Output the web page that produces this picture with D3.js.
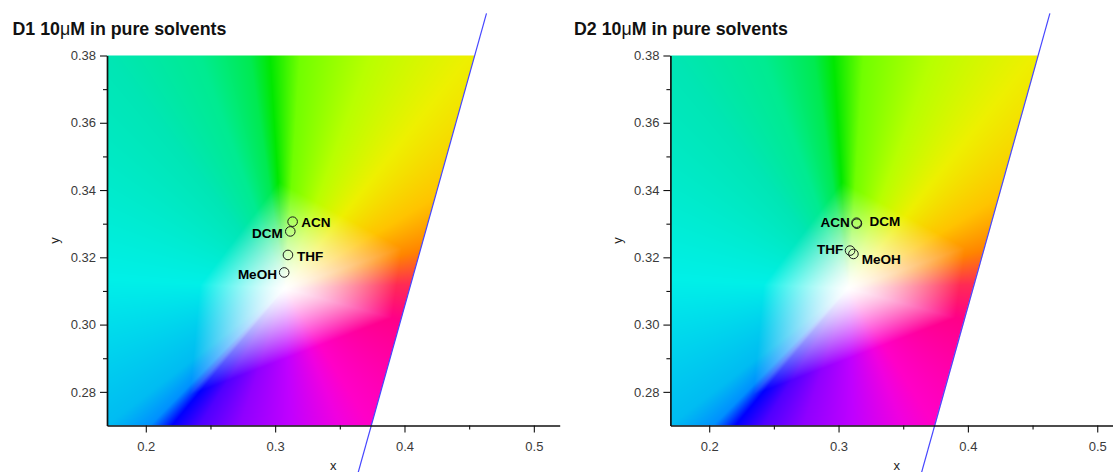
<!DOCTYPE html>
<html>
<head>
<meta charset="utf-8">
<script src="https://cdn.jsdelivr.net/npm/d3@7"></script>
<style>
  body { margin: 0; background: #fff; }
  svg { display: block; font-family: Arial, "Liberation Sans", sans-serif; }
</style>
</head>
<body>
<svg id="chart" width="1113" height="472"></svg>
<script>
// chromaticity coordinates
const panelNames = ['D1', 'D2'];
const solvents = ['ACN', 'DCM', 'THF', 'MeOH'];
const d1X = [0.3135, 0.3117, 0.3099, 0.3070];
const d1Y = [0.3306, 0.3277, 0.3207, 0.3155];
const d2X = [0.3139, 0.3142, 0.3089, 0.3115];
const d2Y = [0.3303, 0.3300, 0.3220, 0.3210];

const xTicks = [0.2, 0.3, 0.4, 0.5];
const xMinor = [0.25, 0.35, 0.45];
const yTicks = [0.28, 0.30, 0.32, 0.34, 0.36, 0.38];
const yMinor = [0.29, 0.31, 0.33, 0.35, 0.37];

// background colour field: white point, hue anchors, edge of the pale core
const whitePoint = [0.3076, 0.3107];
const anchorX = [0.2960, 0.2805, 0.2419, 0.1700, 0.1700, 0.1700, 0.2032, 0.2202, 0.2419, 0.2728, 0.3114, 0.3501, 0.3733, 0.3902, 0.4003, 0.4073, 0.4227, 0.4505, 0.3733, 0.3192];
const anchorY = [0.3800, 0.3800, 0.3800, 0.3800, 0.3133, 0.2700, 0.2700, 0.2700, 0.2700, 0.2700, 0.2700, 0.2700, 0.2700, 0.3020, 0.3118, 0.3216, 0.3376, 0.3800, 0.3800, 0.3800];
const anchorColor = ['#00e800', '#00ea50', '#00eb90', '#00e6b4', '#00f0e8', '#00bcf2', '#0090ff', '#0000ff', '#5000ff', '#9000ff', '#c000ff', '#f000e0', '#ff00c8', '#ff0088', '#ff2a55', '#ff8400', '#ffc400', '#eef000', '#b8ff00', '#70ff00'];
const coreX = [0.3029, 0.3980, 0.3902, 0.2341, 0.2419];
const coreY = [0.3424, 0.3228, 0.3020, 0.2791, 0.3118];
// the straight blue line closing the field on the right
const boundaryLine = [[0.3598, 0.2500], [0.4634, 0.3925]];

// layout
const panelLeft = [107, 670.4];
const plotW = 452.7, plotTop = 55.5, plotBottom = 425.5;
const labelPlacement = [
  { ACN: [8.6, 5.5, 'start'], DCM: [-7.6, 6.5, 'end'], THF: [9, 6.5, 'start'], MeOH: [-7.3, 6.5, 'end'] },
  { ACN: [-6.7, 4.5, 'end'], DCM: [12.6, 2.7, 'start'], THF: [-6.7, 3.3, 'end'], MeOH: [8.4, 10, 'start'] },
];

const svg = d3.select('#chart');

function fieldImage(x, y) {
  const x0 = x.range()[0];
  const top = y.range()[1];
  const w = Math.ceil(x.range()[1] - x0);
  const h = Math.ceil(y.range()[0] - top);
  const canvas = document.createElement('canvas');
  canvas.width = w;
  canvas.height = h;
  const ctx = canvas.getContext('2d');
  const img = ctx.createImageData(w, h);

  const cx = x(whitePoint[0]) - x0, cy = y(whitePoint[1]) - top;
  const stops = anchorX
    .map((ax, i) => {
      const px = x(ax) - x0, py = y(anchorY[i]) - top;
      return { a: Math.atan2(py - cy, px - cx), c: d3.rgb(anchorColor[i]) };
    })
    .sort((p, q) => p.a - q.a);
  const ring = [
    { a: stops[stops.length - 1].a - 2 * Math.PI, c: stops[stops.length - 1].c },
    ...stops,
    { a: stops[0].a + 2 * Math.PI, c: stops[0].c },
  ];
  const poly = coreX.map((sx, i) => [x(sx) - x0, y(coreY[i]) - top]);

  function coreRadius(dx, dy) {
    let best = Infinity;
    for (let k = 0; k < poly.length; k++) {
      const p = poly[k], q = poly[(k + 1) % poly.length];
      const ex = q[0] - p[0], ey = q[1] - p[1];
      const den = dx * ey - dy * ex;
      if (Math.abs(den) < 1e-9) continue;
      const wx = p[0] - cx, wy = p[1] - cy;
      const s = (wx * ey - wy * ex) / den;
      const u = (wx * dy - wy * dx) / den;
      if (s > 0 && u >= 0 && u <= 1 && s < best) best = s;
    }
    return best;
  }

  const bx0 = x(boundaryLine[0][0]) - x0, by0 = y(boundaryLine[0][1]) - top;
  const bx1 = x(boundaryLine[1][0]) - x0, by1 = y(boundaryLine[1][1]) - top;

  for (let j = 0; j < h; j++) {
    const py = j + 0.5;
    const xb = bx0 + (py - by0) * (bx1 - bx0) / (by1 - by0);
    for (let i = 0; i < w; i++) {
      const px = i + 0.5;
      const cov = Math.max(0, Math.min(1, xb - px + 0.5));
      if (cov <= 0) continue;
      const dx = px - cx, dy = py - cy;
      const r = Math.hypot(dx, dy) || 1e-6;
      const a = Math.atan2(dy, dx);
      let k = 0;
      while (k < ring.length - 2 && ring[k + 1].a <= a) k++;
      const f = (a - ring[k].a) / (ring[k + 1].a - ring[k].a);
      const c0 = ring[k].c, c1 = ring[k + 1].c;
      const t = Math.pow(Math.min(1, r / coreRadius(dx / r, dy / r)), 1.3);
      const idx = (j * w + i) * 4;
      const cr = c0.r + (c1.r - c0.r) * f;
      const cg = c0.g + (c1.g - c0.g) * f;
      const cb = c0.b + (c1.b - c0.b) * f;
      img.data[idx] = 255 + (cr - 255) * t;
      img.data[idx + 1] = 255 + (cg - 255) * t;
      img.data[idx + 2] = 255 + (cb - 255) * t;
      img.data[idx + 3] = 255 * cov;
    }
  }
  ctx.putImageData(img, 0, 0);
  return { href: canvas.toDataURL(), x: x0, y: top, w, h };
}

panelNames.forEach((name, p) => {
  const left = panelLeft[p];
  const x = d3.scaleLinear().domain([0.17, 0.52]).range([left, left + plotW]);
  const y = d3.scaleLinear().domain([0.27, 0.38]).range([plotBottom, plotTop]);
  const xs = p === 0 ? d1X : d2X;
  const ys = p === 0 ? d1Y : d2Y;
  const g = svg.append('g');

  const field = fieldImage(x, y);
  g.append('image')
    .attr('href', field.href)
    .attr('x', field.x)
    .attr('y', field.y)
    .attr('width', field.w)
    .attr('height', field.h)
    .attr('preserveAspectRatio', 'none');

  // blue boundary, drawn past the frame like in the original
  g.append('line')
    .attr('x1', x(boundaryLine[0][0]))
    .attr('y1', y(boundaryLine[0][1]))
    .attr('x2', x(boundaryLine[1][0]))
    .attr('y2', y(boundaryLine[1][1]))
    .attr('stroke', '#4646ff')
    .attr('stroke-width', 1.2);

  // axes
  g.append('g')
    .attr('transform', `translate(0,${plotBottom})`)
    .call(d3.axisBottom(x).tickValues(xTicks).tickSize(7).tickSizeOuter(0).tickPadding(9).tickFormat(d3.format('.1f')));
  g.append('g')
    .attr('transform', `translate(0,${plotBottom})`)
    .call(d3.axisBottom(x).tickValues(xMinor).tickSize(4).tickSizeOuter(0).tickFormat(''))
    .select('.domain').remove();
  g.append('g')
    .attr('transform', `translate(${left},0)`)
    .call(d3.axisLeft(y).tickValues(yTicks).tickSize(7).tickSizeOuter(0).tickPadding(4).tickFormat(d3.format('.2f')));
  g.append('g')
    .attr('transform', `translate(${left},0)`)
    .call(d3.axisLeft(y).tickValues(yMinor).tickSize(4).tickSizeOuter(0).tickFormat(''))
    .select('.domain').remove();

  g.selectAll('.domain').attr('stroke', '#111').attr('stroke-width', 1.7);
  g.selectAll('.tick line').attr('stroke', '#111').attr('stroke-width', 1.1);
  g.selectAll('.tick text').attr('fill', '#3a3a3a').style('font-size', '13px');

  g.append('text')
    .attr('x', (x.range()[0] + x.range()[1]) / 2)
    .attr('y', 470)
    .attr('text-anchor', 'middle')
    .attr('fill', '#222')
    .style('font-size', '13px')
    .text('x');
  g.append('text')
    .attr('transform', `translate(${left - 48},${(plotTop + plotBottom) / 2}) rotate(-90)`)
    .attr('text-anchor', 'middle')
    .attr('fill', '#222')
    .style('font-size', '13px')
    .text('y');

  // title
  const title = g.append('text')
    .attr('x', p === 0 ? 12.5 : 574)
    .attr('y', 34.5)
    .attr('fill', '#111')
    .style('font-size', '17.8px')
    .style('font-weight', 'bold');
  title.append('tspan').text(`${name} 10`);
  title.append('tspan').style('font-weight', 'normal').text('\u03bc');
  title.append('tspan').text('M in pure solvents');

  // solvent points
  const pts = solvents.map((s, i) => ({ s, x: xs[i], y: ys[i] }));
  g.selectAll('circle.pt')
    .data(pts)
    .enter()
    .append('circle')
    .attr('class', 'pt')
    .attr('cx', (d) => x(d.x))
    .attr('cy', (d) => y(d.y))
    .attr('r', 4.8)
    .attr('fill', 'none')
    .attr('stroke', '#1a1a1a')
    .attr('stroke-width', 1);
  g.selectAll('text.lbl')
    .data(pts)
    .enter()
    .append('text')
    .attr('class', 'lbl')
    .attr('x', (d) => x(d.x) + labelPlacement[p][d.s][0])
    .attr('y', (d) => y(d.y) + labelPlacement[p][d.s][1])
    .attr('text-anchor', (d) => labelPlacement[p][d.s][2])
    .attr('fill', '#000')
    .style('font-size', '13.5px')
    .style('font-weight', 'bold')
    .text((d) => d.s);
});
</script>
</body>
</html>
